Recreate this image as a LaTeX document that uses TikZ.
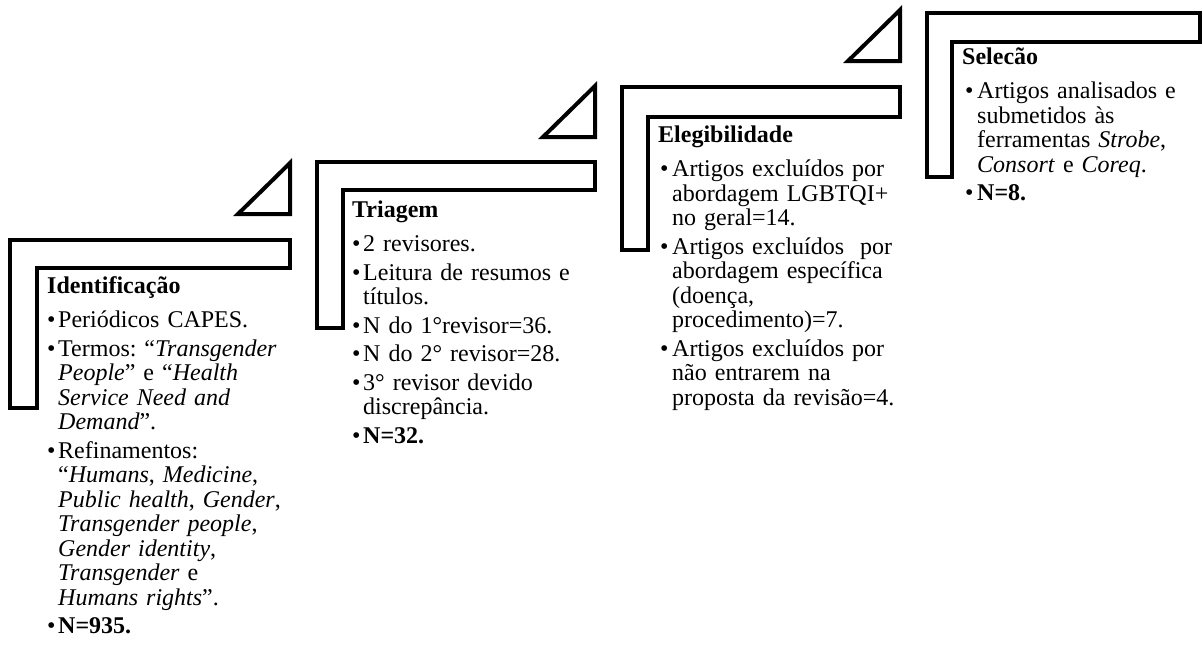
\documentclass[tikz,border=0pt]{standalone}
\usepackage{fontspec}
\setmainfont{Liberation Serif}
\newlength\hi
\newlength\bi
\newcommand\itm[1]{\par\vspace{4pt}\hangindent=\hi\hangafter=1\noindent\makebox[\hi][l]{\hspace{\bi}•}#1}
\newcommand\ttl[1]{\noindent\textbf{#1}\par\vspace{6pt}}
\newcommand\Lsh[6]{\draw[lshape] (#1,#2) -- (#3,#2) -- (#3,#4) -- (#5,#4) -- (#5,#6) -- (#1,#6) -- cycle;}
\newcommand\Tri[2]{\draw[tri] (#1,#2) -- (#1,#2-51) -- (#1-52,#2) -- cycle;}
\tikzset{
  lshape/.style={draw=black, line width=4pt, fill=white, line join=miter},
  tri/.style={draw=black, line width=4pt, fill=white, line join=miter},
  txt/.style={anchor=base west, inner sep=0pt, text width=300pt,
    font=\fontsize{24pt}{24.5pt}\selectfont\frenchspacing}
}
\begin{document}
\begin{tikzpicture}[x=1pt,y=-1pt]
\useasboundingbox (0,0) rectangle (1203,646);
\clip (0,0) rectangle (1203,646);
\fill[white] (0,0) rectangle (1203,646);
% shapes
\Lsh{10}{240}{290}{268}{37}{408}
\Tri{290}{214}
\Lsh{317}{162}{595}{190}{343}{328}
\Tri{595}{137}
\Lsh{622}{87}{900}{117}{648}{250}
\Tri{900}{61}
\Lsh{927}{13}{1200}{42}{952}{177}
% texts
\node[txt] (ident) at (47,293) {\setlength\hi{11pt}\setlength\bi{0pt}%
\ttl{Identificação}%
\itm{Periódicos CAPES.}%
\itm{Termos: “\textit{Transgender}\newline\textit{People}” e “\textit{Health}\newline\textit{Service Need and}\newline\textit{Demand}”.}%
\itm{Refinamentos:\newline“\textit{Humans}, \textit{Medicine},\newline\textit{Public health}, \textit{Gender},\newline\textit{Transgender people},\newline\textit{Gender identity},\newline\textit{Transgender} e\newline\textit{Humans rights}”.}%
\itm{\textbf{N=935.}}\par};
\node[txt] (triag) at (352,217) {\setlength\hi{11pt}\setlength\bi{0pt}%
\ttl{Triagem}%
\itm{2 revisores.}%
\itm{Leitura de resumos e\newline títulos.}%
\itm{N do 1°revisor=36.}%
\itm{N do 2° revisor=28.}%
\itm{3° revisor devido\newline discrepância.}%
\itm{\textbf{N=32.}}\par};
\node[txt] (elegi) at (658,142) {\setlength\hi{14pt}\setlength\bi{2pt}%
\ttl{Elegibilidade}%
\itm{Artigos excluídos por\newline abordagem LGBTQI+\newline no geral=14.}%
\itm{Artigos excluídos\ \ por\newline abordagem específica\newline (doença,\newline procedimento)=7.}%
\itm{Artigos excluídos por\newline não entrarem na\newline proposta da revisão=4.}\par};
\node[txt] (selec) at (962,64) {\setlength\hi{15pt}\setlength\bi{3pt}%
\ttl{Selecão}%
\itm{Artigos analisados e\newline submetidos às\newline ferramentas \textit{Strobe},\newline\textit{Consort} e \textit{Coreq}.}%
\itm{\textbf{N=8.}}\par};
\end{tikzpicture}
\end{document}
